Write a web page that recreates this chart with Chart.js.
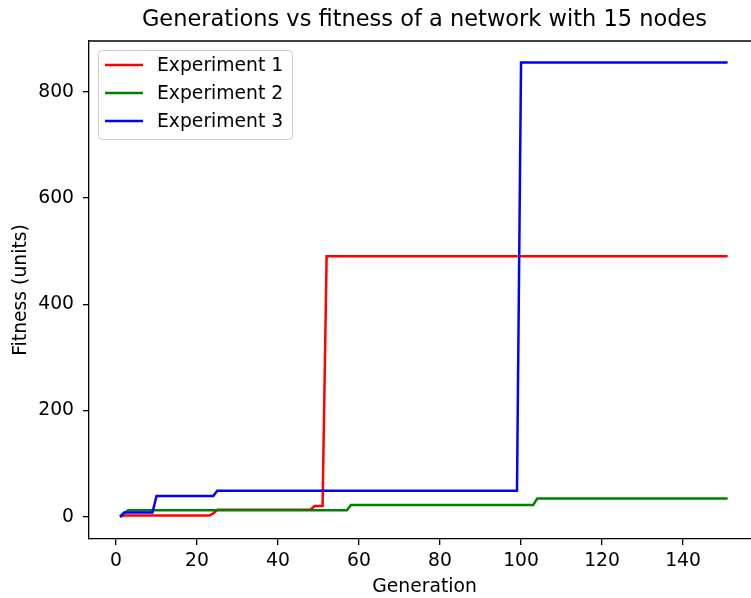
<!DOCTYPE html>
<html>
<head>
<meta charset="UTF-8" />
<script src="https://cdn.jsdelivr.net/npm/chart.js"></script>
<style>
  html, body { margin: 0; padding: 0; background: #fff; overflow: hidden; }
  #wrap { width: 751px; height: 598px; overflow: hidden; }
  canvas { display: block; }
</style>
</head>
<body>
<div id="wrap"><canvas id="fitnessChart" width="770" height="598"></canvas></div>
<script>
const chartTitle = "Generations vs fitness of a network with 15 nodes";
const xLabel = "Generation";
const yLabel = "Fitness (units)";
const seriesLabels = ["Experiment 1", "Experiment 2", "Experiment 3"];
const seriesColors = ["#ff0000", "#008000", "#0000ff"];

// generation / fitness at the points where the value changes (flat in between)
const exp1Gen = [1, 2, 23, 24, 25, 48, 49, 51, 52, 151];
const exp1Fit = [0, 2, 2, 6, 13, 13, 20, 20, 490, 490];
const exp2Gen = [1, 3, 57, 58, 103, 104, 151];
const exp2Fit = [0, 12, 12, 22, 22, 34, 34];
const exp3Gen = [1, 2, 9, 10, 24, 25, 99, 100, 151];
const exp3Fit = [0, 8, 8, 39, 39, 49, 49, 855, 855];

const xTicks = [0, 20, 40, 60, 80, 100, 120, 140];
const yTicks = [0, 200, 400, 600, 800];

const FONT = "'DejaVu Sans', sans-serif";
const INK = "#000";

const toPoints = (gens, fits) => gens.map((g, i) => ({ x: g, y: fits[i] }));
const allGens = [exp1Gen, exp2Gen, exp3Gen];
const allFits = [exp1Fit, exp2Fit, exp3Fit];

// title, top frame line and legend box drawn like matplotlib
const decorations = {
  id: "decorations",
  afterDraw(chart) {
    const { ctx, chartArea } = chart;
    ctx.save();
    ctx.strokeStyle = INK;
    ctx.lineWidth = 1.3;
    ctx.beginPath();
    ctx.moveTo(chartArea.left, chartArea.top);
    ctx.lineTo(chartArea.right, chartArea.top);
    ctx.stroke();

    ctx.fillStyle = INK;
    ctx.font = "22.5px " + FONT;
    ctx.textAlign = "center";
    ctx.textBaseline = "middle";
    ctx.fillText(chartTitle, (chartArea.left + chartArea.right) / 2, 20);

    // legend
    ctx.fillStyle = "rgba(255,255,255,0.8)";
    ctx.strokeStyle = "#cccccc";
    ctx.lineWidth = 1;
    ctx.beginPath();
    ctx.roundRect(98.5, 50.5, 194, 89, 4);
    ctx.fill();
    ctx.stroke();
    ctx.font = "18.75px " + FONT;
    ctx.textAlign = "left";
    chart.data.datasets.forEach((ds, i) => {
      const y = 66 + 28 * i;
      ctx.strokeStyle = ds.borderColor;
      ctx.lineWidth = 2.5;
      ctx.beginPath();
      ctx.moveTo(105, y - 1);
      ctx.lineTo(143, y - 1);
      ctx.stroke();
      ctx.fillStyle = INK;
      ctx.fillText(ds.label, 157, y);
    });
    ctx.restore();
  }
};

new Chart(document.getElementById("fitnessChart"), {
  type: "line",
  data: {
    datasets: seriesLabels.map((label, i) => ({
      label: label,
      data: toPoints(allGens[i], allFits[i]),
      borderColor: seriesColors[i],
      backgroundColor: seriesColors[i],
      borderWidth: 2.5,
      pointRadius: 0,
      tension: 0,
      fill: false,
      order: 3 - i
    }))
  },
  options: {
    responsive: false,
    animation: false,
    layout: { padding: { left: 0, right: 10, top: 41, bottom: 0 } },
    plugins: {
      legend: { display: false },
      title: { display: false },
      tooltip: { enabled: false }
    },
    scales: {
      x: {
        type: "linear",
        min: -6.67,
        max: 159,
        afterBuildTicks: (s) => { s.ticks = xTicks.map((v) => ({ value: v })); },
        afterFit: (s) => { s.height = 59; },
        grid: { drawOnChartArea: false, drawTicks: true, tickLength: 6, color: INK, lineWidth: 1.3 },
        border: { display: true, color: INK, width: 1.3 },
        ticks: { padding: 5, color: INK, maxRotation: 0, font: { family: FONT, size: 18.75 } },
        title: { display: true, text: xLabel, color: INK, padding: { top: 0, bottom: 0 }, font: { family: FONT, size: 18.75 } }
      },
      y: {
        type: "linear",
        min: -42,
        max: 895.4,
        afterBuildTicks: (s) => { s.ticks = yTicks.map((v) => ({ value: v })); },
        afterFit: (s) => { s.width = 89; },
        grid: { drawOnChartArea: false, drawTicks: true, tickLength: 6, color: INK, lineWidth: 1.3 },
        border: { display: true, color: INK, width: 1.3 },
        ticks: { padding: 9, color: INK, font: { family: FONT, size: 18.75 } },
        title: { display: true, text: yLabel, color: INK, padding: { top: 10, bottom: 0 }, font: { family: FONT, size: 18.75 } }
      }
    }
  },
  plugins: [decorations]
});
</script>
</body>
</html>
